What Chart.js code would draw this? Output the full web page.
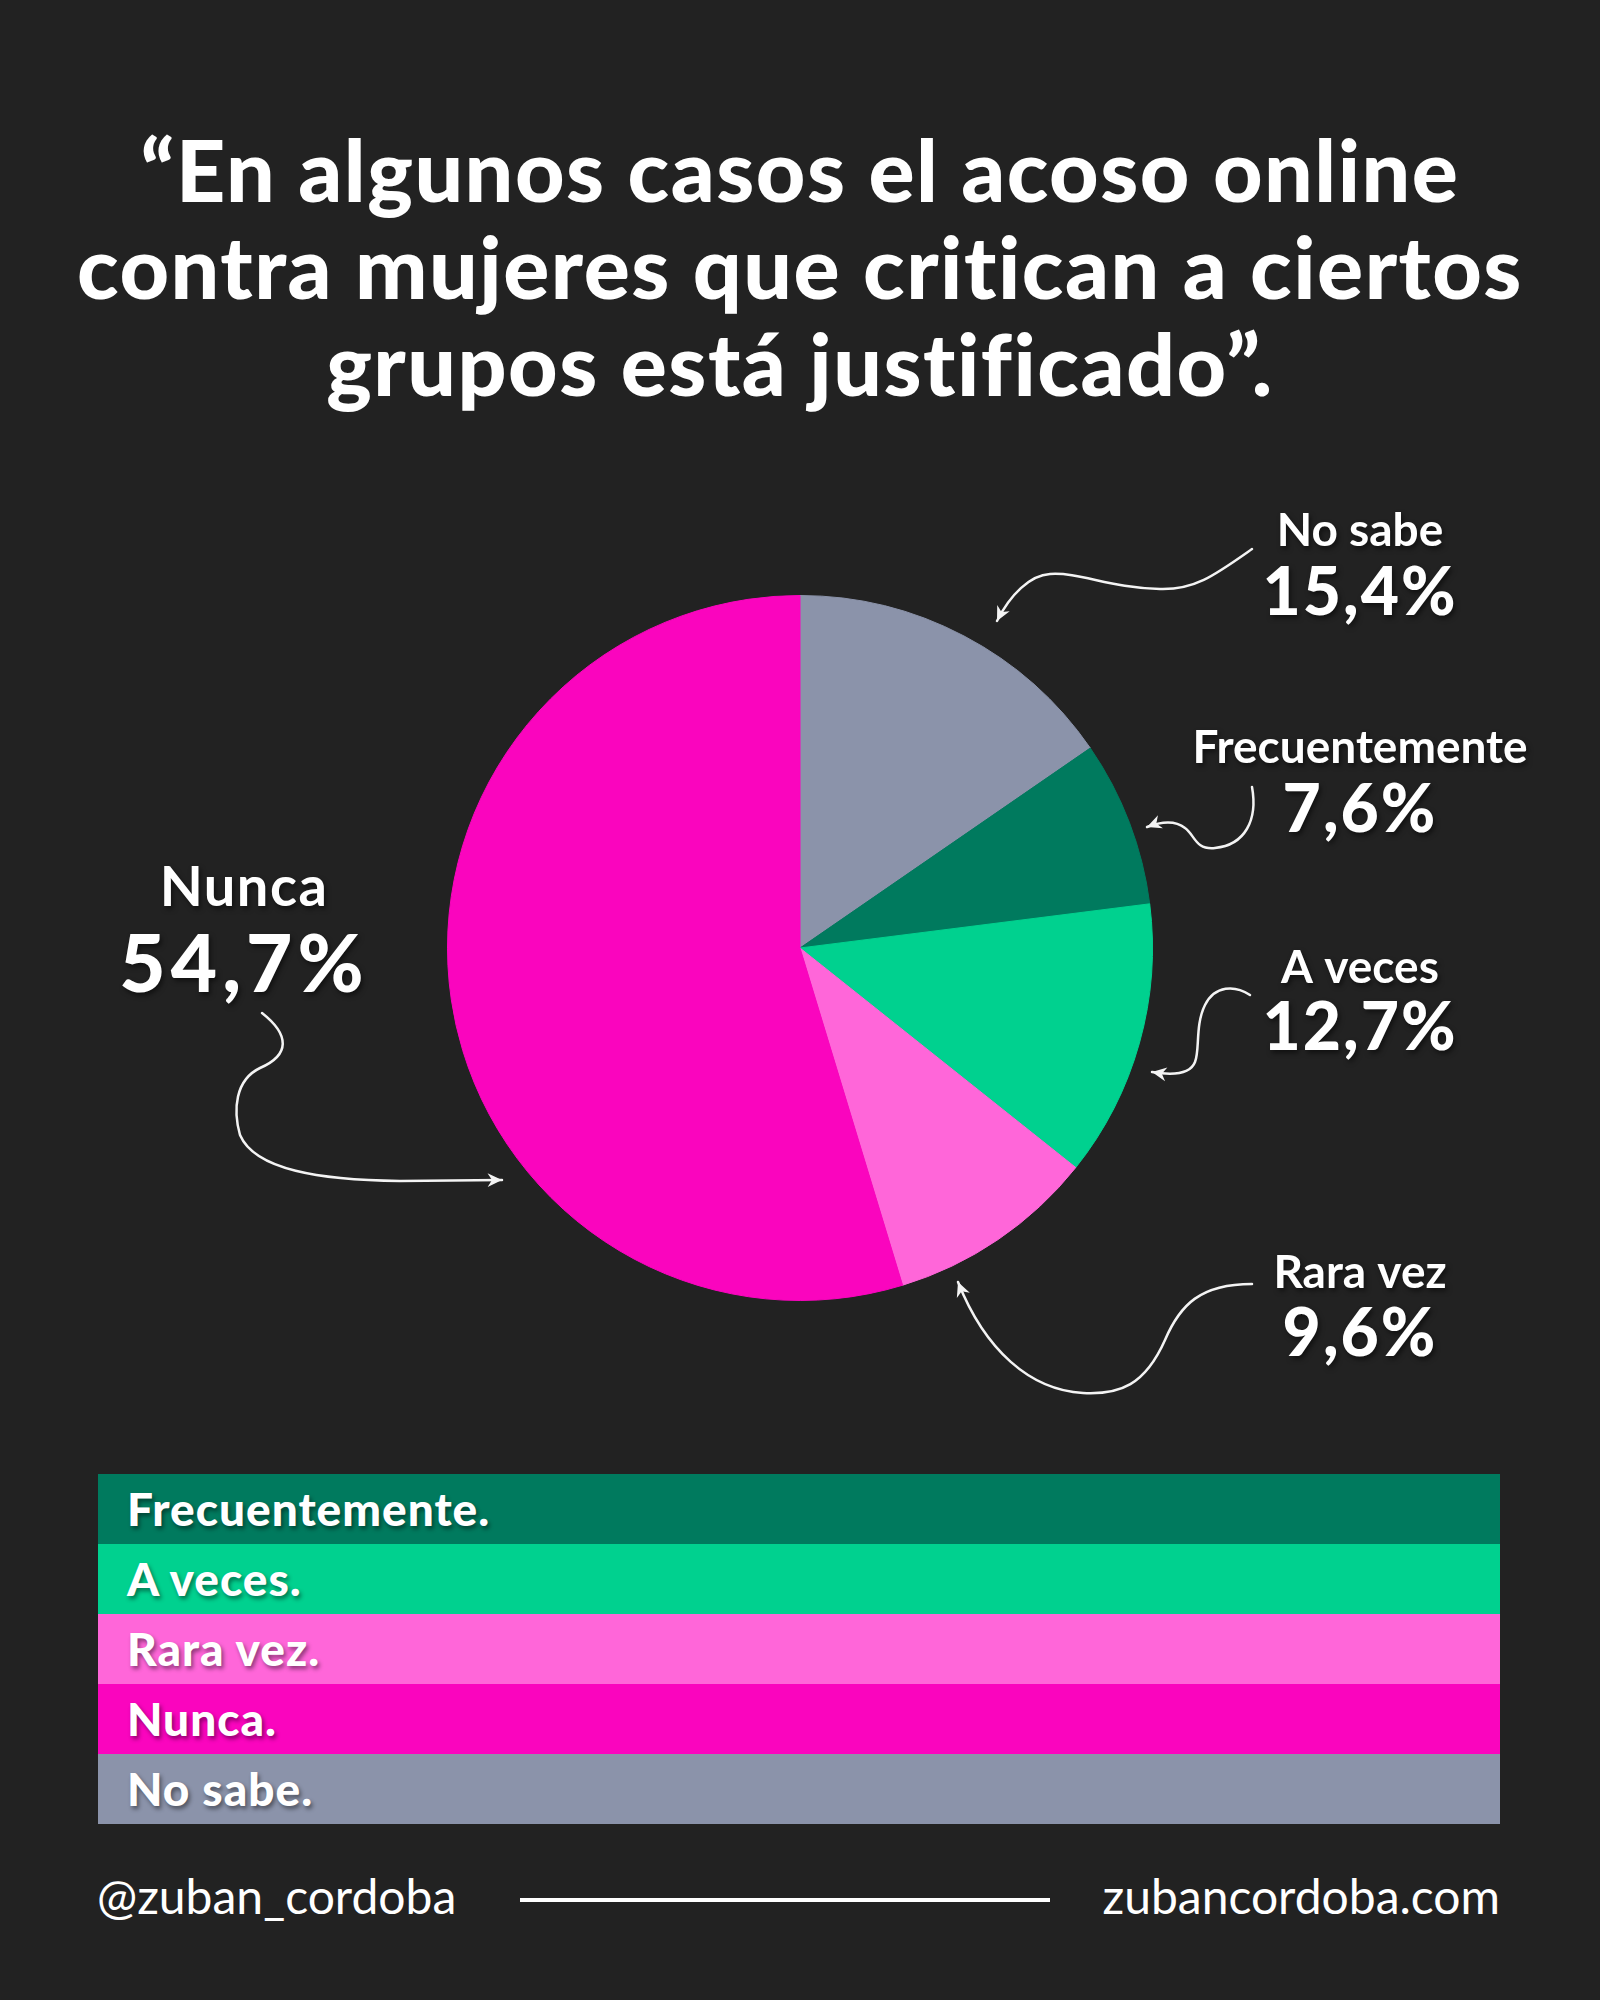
<!DOCTYPE html>
<html>
<head>
<meta charset="utf-8">
<script src="https://cdn.jsdelivr.net/npm/chart.js@4.4.1/dist/chart.umd.min.js"></script>
<style>
  body { margin: 0; width: 1600px; height: 2000px; background: #222222; color: #fff;
         font-family: Lato, "Noto Sans", sans-serif; position: relative; overflow: hidden;
         font-variant-ligatures: none; }
  #titulo { position: absolute; top: 120px; left: 0; width: 1600px; text-align: center;
            font-weight: 900; font-size: 86px; line-height: 97px; margin: 0; letter-spacing: 1.5px; }
  #graf { position: absolute; top: 480px; left: 0; }
  #leyenda { position: absolute; top: 1474px; left: 98px; width: 1402px; }
  .fila { height: 70px; line-height: 70px; padding-left: 29px; font-weight: 900; font-size: 46px;
          letter-spacing: 1px; text-shadow: 2px 3px 4px rgba(0,0,0,0.45); }
  .pie { position: absolute; top: 1866px; font-size: 48px; font-weight: 400; line-height: 60px; }
  #linea { position: absolute; left: 520px; width: 530px; top: 1898px; height: 4px; background: #fff; }
</style>
</head>
<body>
<h1 id="titulo">“En algunos casos el acoso online<br>contra mujeres que critican a ciertos<br>grupos está justificado”.</h1>
<canvas id="graf" width="1600" height="960"></canvas>
<div id="leyenda"></div>
<div class="pie" style="left:97px">@zuban_cordoba</div>
<div id="linea"></div>
<div class="pie" style="right:100px">zubancordoba.com</div>
<script>
// Datos: porcentajes de respuesta
const etiquetas = ['No sabe', 'Frecuentemente', 'A veces', 'Rara vez', 'Nunca'];
const valores = [15.4, 7.6, 12.7, 9.6, 54.7];
const colores = ['#8b93aa', '#007a5e', '#00d18f', '#ff66d9', '#fa05be'];
const ordenLeyenda = ['Frecuentemente', 'A veces', 'Rara vez', 'Nunca', 'No sabe'];

// Leyenda en barras de color
const leyenda = document.querySelector('#leyenda');
ordenLeyenda.forEach(nombre => {
    const i = etiquetas.indexOf(nombre);
    const fila = document.createElement('div');
    fila.className = 'fila';
    fila.style.background = colores[i];
    fila.textContent = nombre + '.';
    leyenda.appendChild(fila);
});

// Posición de cada etiqueta respecto al centro de la torta
const notas = {
    'No sabe':        { dx: 560, dy: [-402, -333], tam: [46, 66], esp: [0, 2],
        flecha: [[452,-399],[415,-373],[395,-358],[360,-359],[310,-360],[280,-376],[250,-374],[230,-373],[210,-353],[197,-327]] },
    'Frecuentemente': { dx: 560, dy: [-185, -116], tam: [46, 66], esp: [0, 2],
        flecha: [[452,-161],[458,-128],[445,-103],[415,-100],[395,-98],[395,-113],[385,-120],[375,-128],[360,-126],[347,-121]] },
    'A veces':        { dx: 560, dy: [35, 102], tam: [46, 66], esp: [0, 2],
        flecha: [[450,47],[435,37],[415,37],[405,57],[395,77],[400,102],[395,114],[390,127],[370,127],[352,124]] },
    'Rara vez':       { dx: 560, dy: [340, 408], tam: [46, 66], esp: [0, 2],
        flecha: [[452,336],[400,336],[380,357],[365,392],[345,437],[320,447],[283,445],[230,442],[185,402],[158,334]] },
    'Nunca':          { dx: -556, dy: [-42, 44], tam: [56, 80], esp: [1.5, 5],
        flecha: [[-538,65],[-510,87],[-510,107],[-540,120],[-565,132],[-567,162],[-560,187],[-545,222],[-480,232],[-400,233]], fin: [-298,232] }
};

const rotulos = {
    id: 'rotulos',
    afterDraw(chart) {
        const ctx = chart.ctx;
        const arco = chart.getDatasetMeta(0).data[0];
        const cx = arco.x, cy = arco.y;
        ctx.save();
        etiquetas.forEach((nombre, i) => {
            const n = notas[nombre];
            // texto
            ctx.textAlign = 'center';
            ctx.textBaseline = 'alphabetic';
            ctx.fillStyle = '#fff';
            ctx.shadowColor = 'rgba(0,0,0,0.5)';
            ctx.shadowOffsetX = 2;
            ctx.shadowOffsetY = 3;
            ctx.shadowBlur = 5;
            ctx.font = '700 ' + n.tam[0] + 'px Lato';
            ctx.letterSpacing = n.esp[0] + 'px';
            ctx.fillText(nombre, cx + n.dx, cy + n.dy[0]);
            ctx.font = '900 ' + n.tam[1] + 'px Lato';
            ctx.letterSpacing = n.esp[1] + 'px';
            ctx.fillText(valores[i].toString().replace('.', ',') + '%', cx + n.dx, cy + n.dy[1]);
            ctx.letterSpacing = '0px';
            // flecha
            ctx.shadowColor = 'transparent';
            const p = n.flecha;
            ctx.strokeStyle = '#f4f4f4';
            ctx.lineWidth = 2.5;
            ctx.lineCap = 'round';
            ctx.beginPath();
            ctx.moveTo(cx + p[0][0], cy + p[0][1]);
            for (let k = 1; k + 2 < p.length; k += 3) {
                ctx.bezierCurveTo(cx + p[k][0], cy + p[k][1], cx + p[k+1][0], cy + p[k+1][1], cx + p[k+2][0], cy + p[k+2][1]);
            }
            let desde = p[p.length - 2], punta = p[p.length - 1];
            if (n.fin) {
                ctx.lineTo(cx + n.fin[0], cy + n.fin[1]);
                desde = punta;
                punta = n.fin;
            }
            ctx.stroke();
            const ang = Math.atan2(punta[1] - desde[1], punta[0] - desde[0]);
            const tx = cx + punta[0], ty = cy + punta[1];
            ctx.fillStyle = '#f4f4f4';
            ctx.beginPath();
            ctx.moveTo(tx, ty);
            ctx.lineTo(tx - 16 * Math.cos(ang - 0.45), ty - 16 * Math.sin(ang - 0.45));
            ctx.lineTo(tx - 10 * Math.cos(ang), ty - 10 * Math.sin(ang));
            ctx.lineTo(tx - 16 * Math.cos(ang + 0.45), ty - 16 * Math.sin(ang + 0.45));
            ctx.closePath();
            ctx.fill();
        });
        ctx.restore();
    }
};

new Chart(document.querySelector('#graf'), {
    type: 'pie',
    data: {
        labels: etiquetas,
        datasets: [{
            data: valores,
            backgroundColor: colores,
            borderColor: colores,
            borderWidth: 1
        }]
    },
    options: {
        responsive: false,
        devicePixelRatio: 1,
        animation: false,
        layout: { padding: { left: 447, right: 447, top: 115, bottom: 139 } },
        plugins: { legend: { display: false }, tooltip: { enabled: false } }
    },
    plugins: [rotulos]
});
</script>
</body>
</html>
